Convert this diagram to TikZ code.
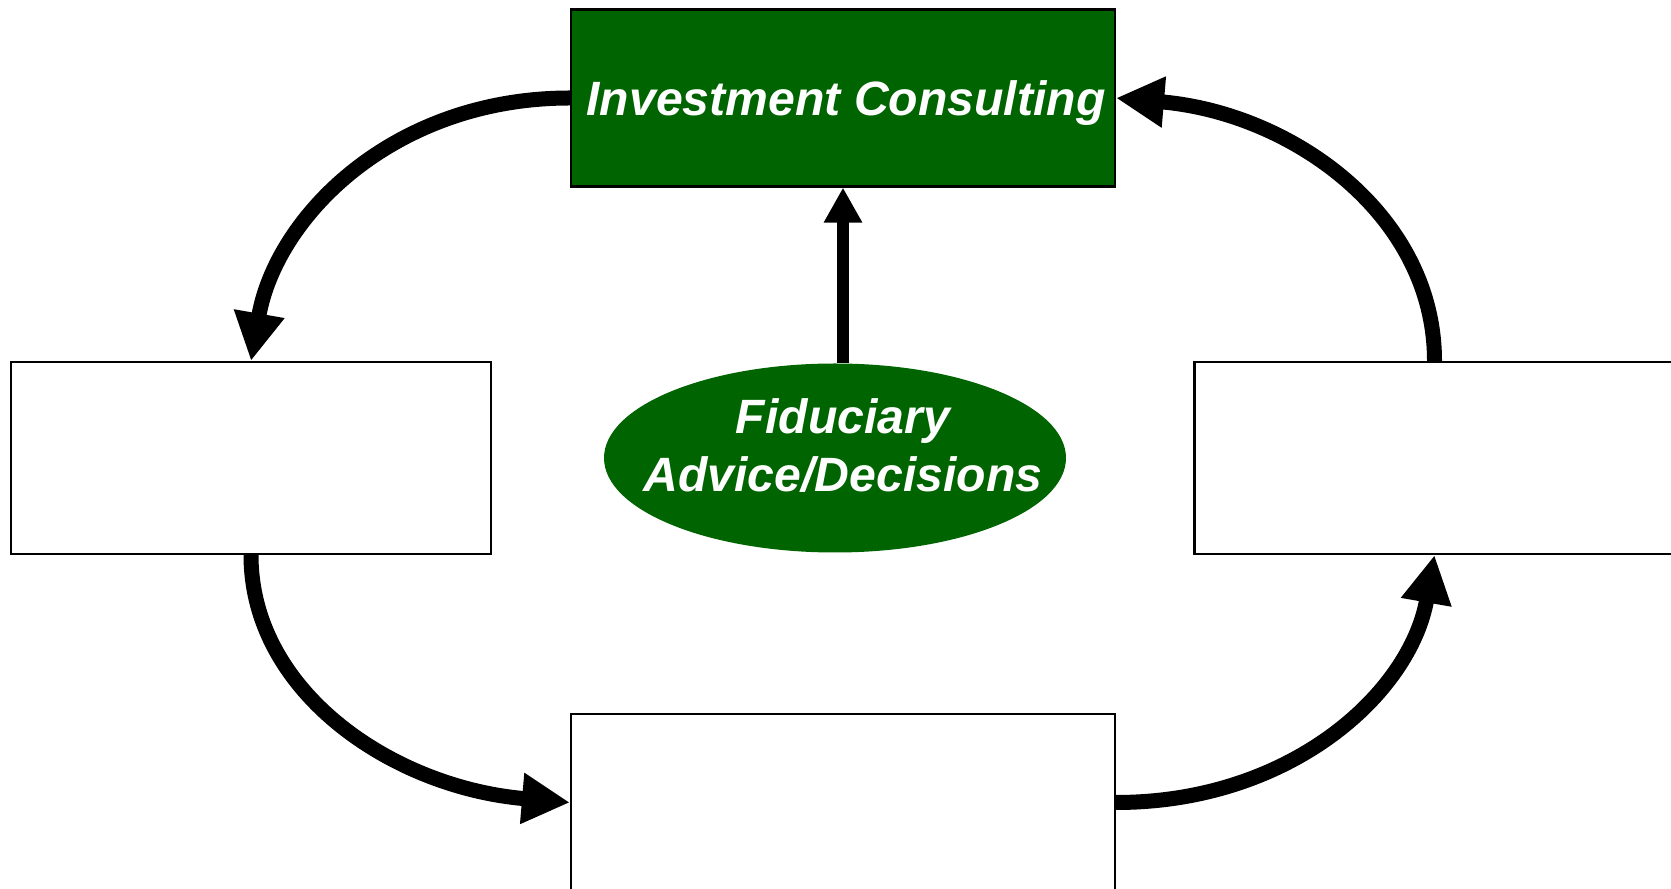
\documentclass[tikz,border=0pt]{standalone}
\usepackage{fontspec}
\setmainfont{Liberation Sans}
\usetikzlibrary{arrows.meta,shapes.geometric,calc}
\newcommand{\mylabelfont}{\fontsize{13.7}{16.5}\selectfont\bfseries\itshape}
\definecolor{advgreen}{RGB}{0,100,0}
\def\wideblockwdth{5.44}
\def\wideblockheight{1.77}
\def\sideblockwdth{4.80}
\def\sideblockheight{1.92}

\begin{document}
\begin{tikzpicture}[
  wideblock/.style={draw, line width=0.6pt, inner sep=0pt,
    minimum width=\wideblockwdth cm, minimum height=\wideblockheight cm},
  sideblock/.style={draw, line width=0.6pt, inner sep=0pt,
    minimum width=\sideblockwdth cm, minimum height=\sideblockheight cm},
  cycle/.style={line width=1.5mm, -{Triangle[length=4.8mm,width=4.8mm]}}
]

\useasboundingbox (0,0) rectangle (16.71,8.89);

% CONSULTING
\node[wideblock, fill=advgreen] (consult) at (8.43,7.91) {};
\node[text=white, font=\mylabelfont] (consulttext) at ($(consult.center)+(0.03,-0.05)$) {Investment Consulting};

% SIDE BLOCKS
\node[sideblock] (leftblock) at (2.51,4.31) {};
\node[sideblock] (rightblock) at (14.345,4.31) {};

% BOTTOM
\node[wideblock] (bottomblock) at (8.43,0.865) {};

% FIDUCIARY
\node[ellipse, fill=advgreen, inner sep=0pt,
  minimum width=4.62cm, minimum height=1.89cm] (fiduciary) at (8.35,4.31) {};
\node[text=white, align=center, font=\mylabelfont] (fiduciarytext) at (8.43,4.43) {Fiduciary\\Advice/Decisions};

% ARROWS
\draw[line width=1.2mm, -{Triangle[length=3.5mm,width=3.6mm]}] (consult.south |- fiduciary.north) -- (consult.south);
\draw[cycle] (consult.west) .. controls +(-1.77,0) and +(0.25,1.44) .. (leftblock.north);
\draw[cycle] (leftblock.south) .. controls +(0,-1.37) and +(-1.77,0.15) .. (bottomblock.west);
\draw[cycle] (bottomblock.east) .. controls +(1.76,0) and +(-0.24,-1.37) .. (rightblock.south);
\draw[cycle] (rightblock.north) .. controls +(0,1.46) and +(1.76,-0.15) .. (consult.east);
\end{tikzpicture}
\end{document}
